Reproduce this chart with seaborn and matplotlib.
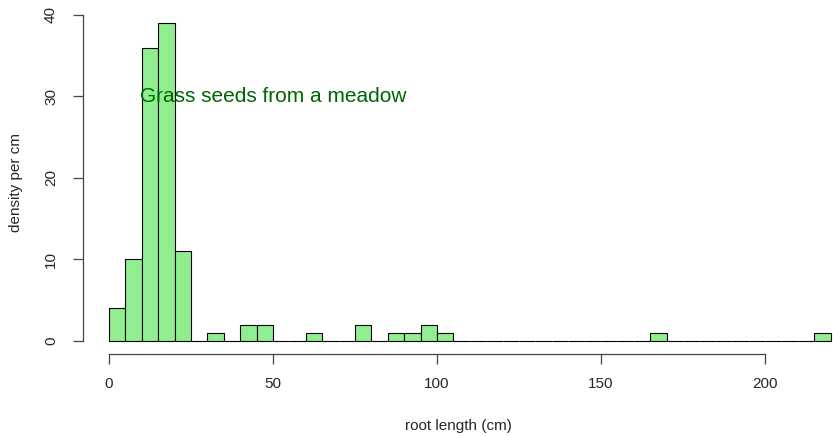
import numpy as np
import pandas as pd
import matplotlib
matplotlib.use("Agg")
import matplotlib.pyplot as plt
import seaborn as sns

# Histogram bins (cm) and counts
bin_edges = list(range(0, 225, 5))
counts = [4, 10, 36, 39, 11, 0, 1, 0, 2, 2, 0, 0, 1, 0, 0, 2, 0, 1, 1, 2, 1,
          0, 0, 0, 0, 0, 0, 0, 0, 0, 0, 0, 0, 1, 0, 0, 0, 0, 0, 0, 0, 0, 0, 1]
x_ticks = [0, 50, 100, 150, 200]
y_ticks = [0, 10, 20, 30, 40]
title_text = "Grass seeds from a meadow"
x_label = "root length (cm)"
y_label = "density per cm"

sns.set_style("white")
plt.rcParams['font.family'] = ['Liberation Sans', 'DejaVu Sans']

df = pd.DataFrame({
    "center": [e + 2.5 for e in bin_edges[:-1]],
    "count": counts,
})

W, H = 833, 436
fig = plt.figure(figsize=(W / 100, H / 100), dpi=100)
ax_left, ax_right = 83, 833
ax_top, ax_bottom = 10.4, 353.7
ax = fig.add_axes([ax_left / W, 1 - ax_bottom / H, (ax_right - ax_left) / W, (ax_bottom - ax_top) / H])

sns.histplot(data=df, x="center", weights="count", bins=bin_edges, ax=ax,
             color="#90EE90", edgecolor="black", linewidth=0.8, alpha=1.0)

px_per_unit = 3.28
x0 = -(109 - ax_left) / px_per_unit
x1 = (ax_right - 109) / px_per_unit
ax.set_xlim(x0, x1)
ax.set_ylim(-1.56, 40.56)

for s in ["top", "right"]:
    ax.spines[s].set_visible(False)
ax.spines["bottom"].set_bounds(0, 200)
ax.spines["left"].set_bounds(0, 40)
for s in ["bottom", "left"]:
    ax.spines[s].set_color("#444444")
    ax.spines[s].set_linewidth(0.9)

ax.set_xticks(x_ticks)
ax.set_yticks(y_ticks)
ax.set_xticklabels([str(t) for t in x_ticks], fontsize=11)
ax.set_yticklabels([str(t) for t in y_ticks], fontsize=11, rotation=90, va="center")
ax.tick_params(axis="both", length=7, width=0.9, color="#444444", direction="out",
               bottom=True, left=True)
ax.tick_params(axis="x", pad=10)
ax.tick_params(axis="y", pad=11)

ax.set_xlabel(x_label, fontsize=11, labelpad=20)
ax.set_ylabel(y_label, fontsize=11, labelpad=15)

ax.text(50, 30, title_text, color="#006400", fontsize=15, ha="center", va="center")

fig.savefig("out.png", dpi=100)
